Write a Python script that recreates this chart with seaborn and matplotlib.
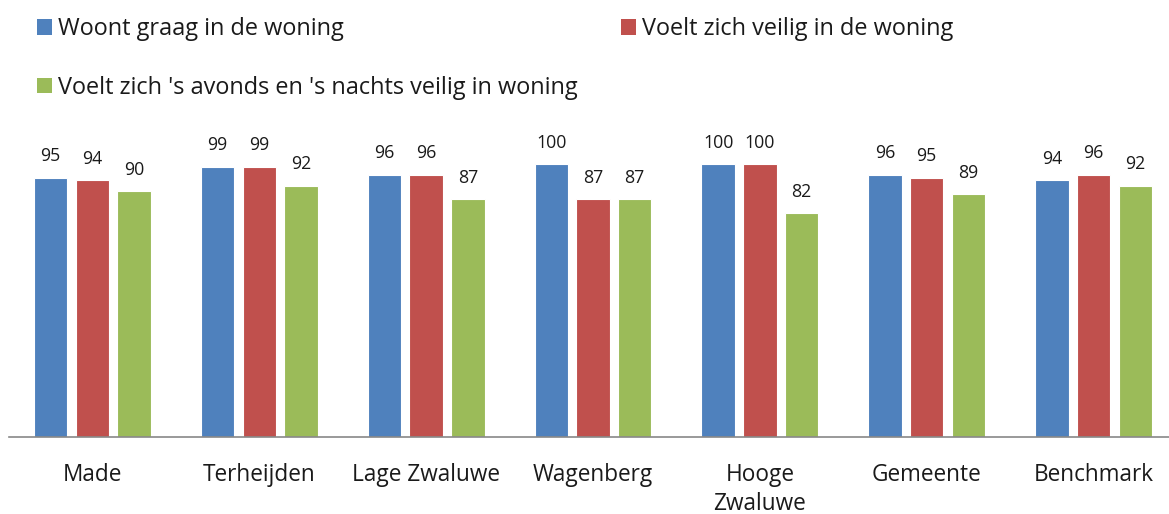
import matplotlib
matplotlib.use("Agg")
import matplotlib.pyplot as plt
import seaborn as sns
import pandas as pd
from matplotlib.patches import Patch

categories = ["Made", "Terheijden", "Lage Zwaluwe", "Wagenberg", "Hooge\nZwaluwe", "Gemeente", "Benchmark"]
series_names = ["Woont graag in de woning", "Voelt zich veilig in de woning",
                "Voelt zich 's avonds en 's nachts veilig in woning"]
woont_graag = [95, 99, 96, 100, 100, 96, 94]
veilig = [94, 99, 96, 87, 100, 95, 96]
veilig_nacht = [90, 92, 87, 87, 82, 89, 92]
colors = ["#4F81BD", "#C0504D", "#9BBB59"]

rows = []
for vals, name in zip([woont_graag, veilig, veilig_nacht], series_names):
    for c, v in zip(categories, vals):
        rows.append({"cat": c, "serie": name, "val": v})
df = pd.DataFrame(rows)

sns.set_theme(style="white")
plt.rcParams["font.family"] = ["Open Sans", "DejaVu Sans"]

fig = plt.figure(figsize=(11.69, 5.14), dpi=100)
ax = fig.add_axes([9 / 1169, 77 / 514, 1168 / 1169, 273 / 514])

sns.barplot(data=df, x="cat", y="val", hue="serie", order=categories, hue_order=series_names,
            palette=colors, width=0.75, gap=0.2, ax=ax, legend=False,
            edgecolor="white", linewidth=0.8, saturation=1)

for cont in ax.containers:
    for bar in cont:
        h = bar.get_height()
        ax.annotate(f"{h:.0f}", (bar.get_x() + bar.get_width() / 2, h),
                    xytext=(0, 9), textcoords="offset points", ha="center", va="bottom",
                    fontsize=12.8, color="#1a1a1a", annotation_clip=False)

ax.set_xlim(-0.5, 6.5)
ax.set_ylim(0, 100)
ax.set_xlabel("")
ax.set_ylabel("")
ax.set_yticks([])
ax.tick_params(axis="x", length=0, pad=19, labelsize=16.3, labelcolor="#1a1a1a")
for lbl in ax.get_xticklabels():
    lbl.set_linespacing(1.25)
for s in ["top", "left", "right"]:
    ax.spines[s].set_visible(False)
ax.spines["bottom"].set_color("#888888")
ax.spines["bottom"].set_linewidth(1.2)

handles = [Patch(facecolor=c, edgecolor="none") for c in colors]
leg_kw = dict(frameon=False, fontsize=16.9, handlelength=0.65, handleheight=0.65,
              handletextpad=0.25, borderpad=0, borderaxespad=0, labelcolor="#1a1a1a")
leg1 = fig.legend([handles[0], handles[2]], [series_names[0], series_names[2]],
                  loc="upper left", bbox_to_anchor=(37 / 1169, 1 - 17 / 514),
                  labelspacing=1.48, **leg_kw)
leg2 = fig.legend([handles[1]], [series_names[1]],
                  loc="upper left", bbox_to_anchor=(621 / 1169, 1 - 17 / 514), **leg_kw)

fig.savefig("out.png", dpi=100)
